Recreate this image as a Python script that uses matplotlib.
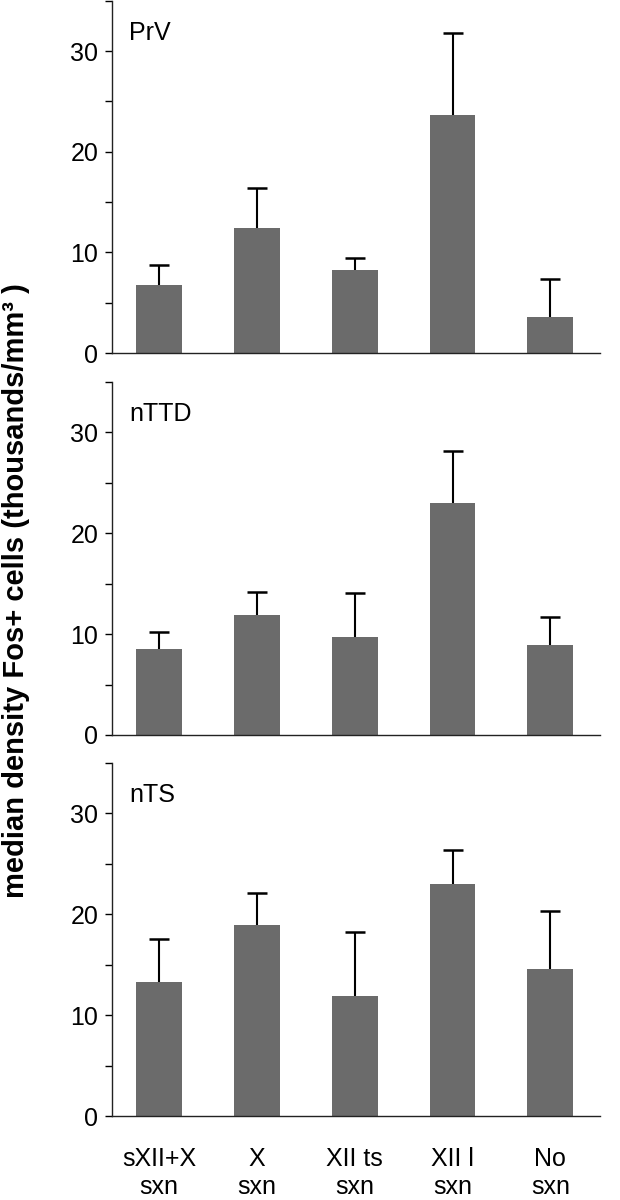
import matplotlib
matplotlib.use("Agg")
import matplotlib.pyplot as plt
from matplotlib.ticker import MultipleLocator

plt.rcParams["font.family"] = ["Liberation Sans", "DejaVu Sans"]

# ---------------------------------------------------------------------------
# data
# ---------------------------------------------------------------------------
groups = ["sXII+X\nsxn", "X\nsxn", "XII ts\nsxn", "XII l\nsxn", "No\nsxn"]
panels = ["PrV", "nTTD", "nTS"]

prv_median = [6.75, 12.4, 8.3, 23.7, 3.55]
prv_upper  = [8.7, 16.45, 9.4, 31.85, 7.4]

nttd_median = [8.5, 11.9, 9.7, 23.0, 8.95]
nttd_upper  = [10.2, 14.2, 14.1, 28.2, 11.7]

nts_median = [13.3, 18.9, 11.9, 23.0, 14.6]
nts_upper  = [17.5, 22.1, 18.2, 26.4, 20.3]

medians = [prv_median, nttd_median, nts_median]
uppers  = [prv_upper, nttd_upper, nts_upper]

BAR_COL = "#6b6b6b"
FS = 18

fig = plt.figure(figsize=(6.2, 12), dpi=100)

# axes boxes in figure fractions (left, bottom, width, height)
boxes = [
    (0.181, 0.7058, 0.787, 0.2935),
    (0.181, 0.3875, 0.787, 0.2942),
    (0.181, 0.0700, 0.787, 0.2942),
]

x = list(range(len(groups)))
for i, (name, med, up) in enumerate(zip(panels, medians, uppers)):
    ax = fig.add_axes(boxes[i])
    err = [u - m for u, m in zip(up, med)]
    ax.bar(x, med, width=0.47, color=BAR_COL, zorder=2)
    eb = ax.errorbar(x, med, yerr=[[0] * len(med), err], fmt="none",
                     ecolor="black", elinewidth=1.5, capsize=7, capthick=1.8, zorder=3)
    # only the upper whisker is drawn in the original
    eb[1][0].set_visible(False)

    ax.set_xlim(-0.48, 4.51)
    ax.set_ylim(0, 35)
    ax.yaxis.set_major_locator(MultipleLocator(10))
    ax.yaxis.set_minor_locator(MultipleLocator(5))
    ax.tick_params(axis="y", which="both", direction="out", length=5, width=1,
                   labelsize=FS, pad=5)
    for s in ("top", "right"):
        ax.spines[s].set_visible(False)
    for s in ("left", "bottom"):
        ax.spines[s].set_linewidth(1.0)
        ax.spines[s].set_color("#222222")

    ax.text(0.035, 0.91, name, transform=ax.transAxes, fontsize=FS,
            ha="left", va="center")

    ax.set_xticks(x)
    if i == 2:
        ax.set_xticklabels(groups, fontsize=FS, linespacing=1.25)
        ax.tick_params(axis="x", length=0, pad=22)
    else:
        ax.set_xticklabels([])
        ax.tick_params(axis="x", length=0)

fig.text(0.026, 0.5075, "median density Fos+ cells (thousands/mm\u00b3 )",
         rotation=90, fontsize=21, fontweight="bold", ha="center", va="center")

fig.savefig("out.png", dpi=100)
